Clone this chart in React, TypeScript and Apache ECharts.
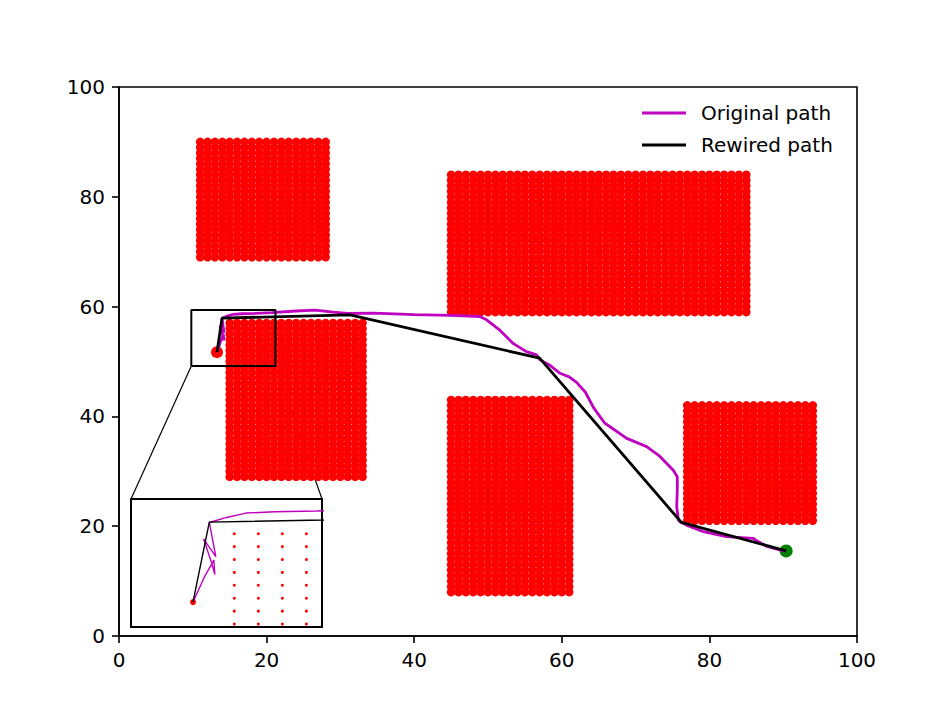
import React, { useEffect, useRef } from "react";
import * as echarts from "echarts";

// ---- data ----
const axisTicks = [0, 20, 40, 60, 80, 100];
// obstacle blocks: [xMin, xMax, yMin, yMax], sampled on a unit grid
const obstacleRects = [
  [11, 28, 69, 90],
  [15, 33, 29, 57],
  [45, 85, 59, 84],
  [45, 61, 8, 43],
  [77, 94, 21, 42],
];
const obstacleStep = 1;
const startPoint = [13.28, 51.7];
const goalPoint = [90.4, 15.5];

const originalX = [
  13.28, 13.75, 14.15, 14.19, 14.04, 13.72, 14.23, 13.96, 14.68, 15.48, 16.68, 18.44,
  20.7, 24.0, 26.6, 29.0, 31.0, 34.5, 40.0, 45.0, 48.9, 49.8, 51.6, 53.4, 55.2, 56.6,
  57.05, 58.4, 59.76, 61.0, 62.0, 63.2, 64.3, 65.8, 68.8, 71.5, 73.3, 75.1, 75.65, 75.65,
  75.57, 75.8, 76.0, 76.9, 79.2, 82.3, 85.9, 86.6, 87.8, 90.0, 90.4,
];
const originalY = [
  51.7, 53.63, 54.95, 53.84, 54.82, 56.6, 55.22, 57.87, 58.26, 58.6, 58.7, 58.76,
  58.9, 59.2, 59.35, 59.0, 58.75, 58.8, 58.55, 58.4, 58.2, 57.6, 55.7, 53.3, 51.8, 51.2,
  50.3, 49.3, 47.85, 47.2, 46.2, 44.4, 41.6, 38.8, 36.0, 34.5, 32.7, 30.2, 29.0, 26.6,
  23.55, 21.1, 20.8, 20.2, 19.0, 18.1, 17.8, 17.2, 16.3, 15.5, 15.5,
];
const rewiredX = [13.28, 13.96, 31.3, 57.0, 76.2, 90.4];
const rewiredY = [51.7, 57.9, 58.5, 50.6, 20.7, 15.5];

const zoomBox = [9.8, 21.2, 49.2, 59.4]; // xMin, xMax, yMin, yMax
const insetXRange = [10.7, 18.65];
const insetYRange = [49.77, 59.69];

const FONT = "DejaVu Sans";

function buildObstacles() {
  const pts: number[][] = [];
  for (const [x0, x1, y0, y1] of obstacleRects) {
    for (let x = x0; x <= x1; x += obstacleStep) {
      for (let y = y0; y <= y1; y += obstacleStep) pts.push([x, y]);
    }
  }
  return pts;
}

export default function App() {
  const ref = useRef<HTMLDivElement>(null);
  useEffect(() => {
    if (!ref.current) return;
    const chart = echarts.init(ref.current, undefined, { renderer: "svg" });
    const obstacles = buildObstacles();
    const insetObstacles = obstacles.filter(
      ([x, y]) =>
        x >= insetXRange[0] && x <= insetXRange[1] && y >= insetYRange[0] && y <= insetYRange[1]
    );
    const original = originalX.map((x, i) => [x, originalY[i]]);
    const rewired = rewiredX.map((x, i) => [x, rewiredY[i]]);
    const box = [
      [zoomBox[0], zoomBox[2]],
      [zoomBox[1], zoomBox[2]],
      [zoomBox[1], zoomBox[3]],
      [zoomBox[0], zoomBox[3]],
      [zoomBox[0], zoomBox[2]],
    ];
    const mainAxis = {
      type: "value",
      min: axisTicks[0],
      max: axisTicks[axisTicks.length - 1],
      interval: axisTicks[1] - axisTicks[0],
      axisLine: { show: true, onZero: false, lineStyle: { color: "#000", width: 1.6 } },
      axisTick: { show: true, length: 7, lineStyle: { color: "#000", width: 1.6 } },
      axisLabel: { color: "#000", fontSize: 20, fontFamily: FONT, margin: 14 },
      splitLine: { show: false },
    };
    const hiddenAxis = {
      type: "value",
      show: false,
      splitLine: { show: false },
    };
    chart.setOption({
      animation: false,
      backgroundColor: "#fff",
      textStyle: { fontFamily: FONT },
      grid: [
        { left: 119, top: 87, width: 738, height: 549, show: true, borderColor: "#000", borderWidth: 1.6, backgroundColor: "transparent" },
        { left: 131, top: 499, width: 191, height: 128, show: true, borderColor: "#000", borderWidth: 2, backgroundColor: "#fff" },
      ],
      xAxis: [
        { ...mainAxis, gridIndex: 0 },
        { ...hiddenAxis, gridIndex: 1, min: insetXRange[0], max: insetXRange[1] },
      ],
      yAxis: [
        { ...mainAxis, gridIndex: 0 },
        { ...hiddenAxis, gridIndex: 1, min: insetYRange[0], max: insetYRange[1] },
      ],
      legend: {
        show: true,
        orient: "vertical",
        left: 642,
        top: 103,
        padding: 0,
        itemWidth: 44,
        itemHeight: 3,
        itemGap: 12,
        icon: "rect",
        data: ["Original path", "Rewired path"],
        textStyle: { fontSize: 20, color: "#000", fontFamily: FONT, padding: [0, 0, 0, 10], lineHeight: 20 },
      },
      series: [
        {
          type: "scatter", name: "obstacles", xAxisIndex: 0, yAxisIndex: 0,
          data: obstacles, symbol: "circle", symbolSize: 8.6, itemStyle: { color: "#ff0000", opacity: 1 },
          silent: true, z: 1,
        },
        {
          type: "scatter", name: "start", xAxisIndex: 0, yAxisIndex: 0,
          data: [startPoint], symbolSize: 12, itemStyle: { color: "#ff0000", opacity: 1 }, silent: true, z: 2,
        },
        {
          type: "scatter", name: "goal", xAxisIndex: 0, yAxisIndex: 0,
          data: [goalPoint], symbolSize: 13, itemStyle: { color: "#008000", opacity: 1 }, silent: true, z: 2,
        },
        {
          type: "line", name: "Original path", xAxisIndex: 0, yAxisIndex: 0,
          data: original, showSymbol: false, symbol: "none",
          lineStyle: { color: "#bf00bf", width: 2.8 }, itemStyle: { color: "#bf00bf" }, z: 3,
        },
        {
          type: "line", name: "Rewired path", xAxisIndex: 0, yAxisIndex: 0,
          data: rewired, showSymbol: false, symbol: "none",
          lineStyle: { color: "#000", width: 2.8 }, itemStyle: { color: "#000" }, z: 4,
        },
        {
          type: "line", name: "zoom box", xAxisIndex: 0, yAxisIndex: 0,
          data: box, showSymbol: false, symbol: "none", silent: true,
          lineStyle: { color: "#000", width: 2 }, z: 5,
        },
        {
          type: "scatter", name: "inset obstacles", xAxisIndex: 1, yAxisIndex: 1,
          data: insetObstacles, symbolSize: 3, itemStyle: { color: "#ff0000", opacity: 1 }, silent: true, z: 6,
        },
        {
          type: "scatter", name: "inset start", xAxisIndex: 1, yAxisIndex: 1,
          data: [startPoint], symbolSize: 6, itemStyle: { color: "#ff0000", opacity: 1 }, silent: true, z: 6,
        },
        {
          type: "line", name: "inset original", xAxisIndex: 1, yAxisIndex: 1, clip: true,
          data: original, showSymbol: false, symbol: "none", silent: true,
          lineStyle: { color: "#bf00bf", width: 1.4 }, z: 7,
        },
        {
          type: "line", name: "inset rewired", xAxisIndex: 1, yAxisIndex: 1, clip: true,
          data: rewired, showSymbol: false, symbol: "none", silent: true,
          lineStyle: { color: "#000", width: 1.4 }, z: 8,
        },
      ],
    });
    const p1 = chart.convertToPixel({ gridIndex: 0 }, [zoomBox[0], zoomBox[2]]) as number[];
    const p2 = chart.convertToPixel({ gridIndex: 0 }, [zoomBox[1], zoomBox[2]]) as number[];
    const q1 = chart.convertToPixel({ gridIndex: 1 }, [insetXRange[0], insetYRange[1]]) as number[];
    const q2 = chart.convertToPixel({ gridIndex: 1 }, [insetXRange[1], insetYRange[1]]) as number[];
    chart.setOption({
      graphic: [
        { type: "line", z: 100, shape: { x1: p1[0], y1: p1[1], x2: q1[0], y2: q1[1] }, style: { stroke: "#000", lineWidth: 1.2 } },
        { type: "line", z: 100, shape: { x1: p2[0], y1: p2[1], x2: q2[0], y2: q2[1] }, style: { stroke: "#000", lineWidth: 1.2 } },
      ],
    });
    return () => chart.dispose();
  }, []);
  return (
    <div
      ref={ref}
      style={{ position: "absolute", left: 0, top: 0, width: 952, height: 715, background: "#fff" }}
    />
  );
}
